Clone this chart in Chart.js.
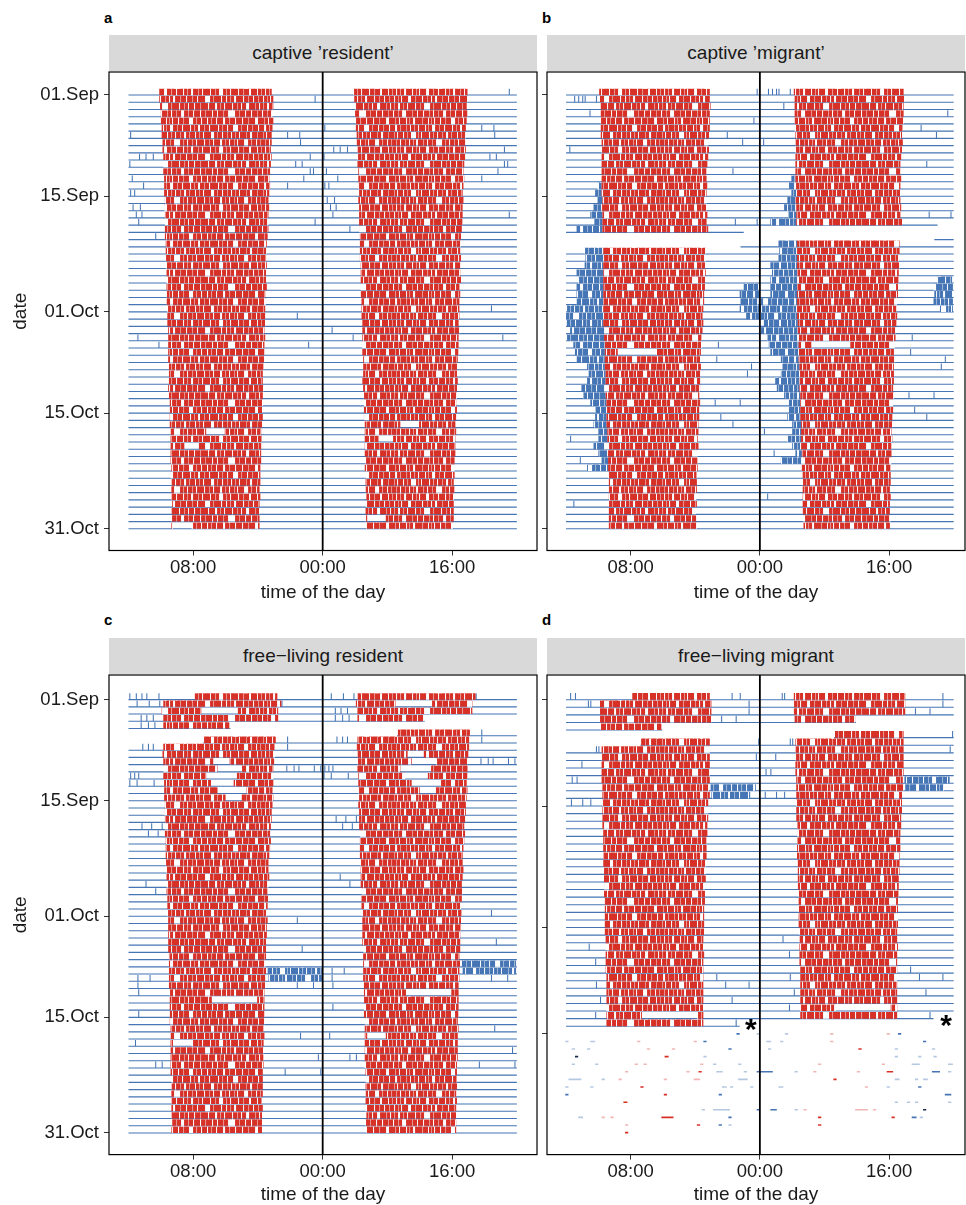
<!DOCTYPE html>
<html lang="en">
<head>
<meta charset="UTF-8">
<title>Actograms</title>
<style>
  body { margin: 0; background: #fff; overflow: hidden; font-family: 'Liberation Sans', Arial, sans-serif; }
  #fig { position: relative; width: 966px; height: 1205px; }
  .tag { position: absolute; font-weight: bold; font-size: 15px; line-height: 18px; color: #000; }
  .strip { position: absolute; height: 36px; line-height: 36px; background: #d9d9d9; text-align: center;
           font-size: 19px; color: #1a1a1a; white-space: nowrap; }
  canvas { position: absolute; }
</style>
</head>
<body>
<div id="fig">
  <div class="tag" style="left:104px;top:9px">a</div>
  <div class="tag" style="left:542px;top:9px">b</div>
  <div class="tag" style="left:104px;top:611px">c</div>
  <div class="tag" style="left:542px;top:611px">d</div>
  <div class="strip" id="s0" style="left:109px;top:35px;width:428px"></div>
  <div class="strip" id="s1" style="left:547px;top:35px;width:418px"></div>
  <div class="strip" id="s2" style="left:109px;top:638px;width:428px"></div>
  <div class="strip" id="s3" style="left:547px;top:638px;width:418px"></div>
  <canvas id="p0" width="540" height="544" style="left:0;top:66px"></canvas>
  <canvas id="p1" width="436" height="544" style="left:530px;top:66px"></canvas>
  <canvas id="p2" width="540" height="543" style="left:0;top:669px"></canvas>
  <canvas id="p3" width="436" height="543" style="left:530px;top:669px"></canvas>
</div>

<script src="https://cdn.jsdelivr.net/npm/chart.js@4.4.0/dist/chart.umd.min.js"></script>
<script>
// ---- data (hours of the day, day index 0 = 01.Sep, 61 = 01.Nov) ----
const panelTitles = ['captive \u2019resident\u2019', 'captive \u2019migrant\u2019',
                     'free\u2212living resident', 'free\u2212living migrant'];
const dateTickDays = [0, 14, 30, 44, 60];
const dateTickLabels = ['01.Sep', '15.Sep', '01.Oct', '15.Oct', '31.Oct'];
const timeTickHours = [8, 24, 40];
const timeTickLabels = ['08:00', '00:00', '16:00'];
const midnightHour = 24;

// activity onset / offset per day
const onsetA = [3.8,3.8,3.9,4.0,4.0,4.1,4.1,4.2,4.2,4.3, 4.3,4.3,4.4,4.4,4.4,4.5,4.4,4.5,4.5,4.5,
  4.5,4.6,4.6,4.6,4.6,4.7,4.7,4.7,4.7,4.7, 4.8,4.8,4.8,4.9,4.9,4.9,4.9,4.9,5.0,5.0,
  5.0,4.9,5.0,5.1,5.1,5.1,5.1,5.2,5.2,5.2, 5.2,5.2,5.3,5.2,5.3,5.3,5.3,5.4,5.3,5.3, 5.3,5.4];
const offsetA = [17.7,17.9,17.9,17.8,17.9,17.8,17.7,17.7,17.6,17.7, 17.6,17.5,17.4,17.5,17.4,17.3,17.4,17.3,17.3,17.3,
  17.2,17.1,17.1,17.0,17.1,17.0,17.0,17.1,16.9,17.0, 16.9,16.9,16.9,16.8,16.9,16.8,16.8,16.8,16.7,16.6,
  16.6,16.7,16.6,16.6,16.5,16.6,16.5,16.4,16.5,16.4, 16.4,16.4,16.3,16.3,16.3,16.2,16.3,16.2,16.2,16.2, 16.2,16.1];

const onsetB = [4.1,4.2,4.3,4.3,4.3,4.3,4.3,4.4,4.4,4.4, 4.4,4.4,4.4,4.4,4.4,4.5,4.4,4.5,4.5,4.5,
  null,null,4.6,4.6,4.6,4.6,4.6,4.6,4.6,4.6, 4.6,4.6,4.6,4.7,4.7,4.8,4.8,4.8,4.8,4.9,
  4.9,4.9,4.9,5.0,5.0,5.0,5.0,5.1,5.1,5.1, 5.1,5.2,5.2,5.2,5.3,5.3,5.3,5.3,5.3,5.3, 5.3,5.4];
const offsetB = [17.8,17.8,17.9,17.8,17.8,17.8,17.7,17.6,17.7,17.6, 17.5,17.4,17.4,17.5,17.4,17.4,17.4,17.5,17.4,17.6,
  null,null,17.3,17.3,17.2,17.3,17.2,17.2,17.1,17.1, 17.0,16.9,17.0,16.9,16.8,16.8,16.7,16.6,16.7,16.6,
  16.6,16.6,16.5,16.6,16.5,16.5,16.4,16.4,16.3,16.4, 16.3,16.3,16.3,16.2,16.2,16.2,16.1,16.2,16.1,16.1, 16.2,16.1];
// start of the night-time (blue) activity that runs up to the onset
const blueOnB = [null,null,null,null,null,null,null,null,null,null, null,null,null,3.9,3.6,3.9,3.4,3.0,3.5,1.3,
  null,null,2.3,2.4,2.3,1.3,1.5,1.3,1.3,1.3, 0.1,0.0,0.1,0.5,0.1,0.9,1.1,1.3,2.6,2.8,
  2.6,1.9,2.1,3.0,3.6,3.6,3.4,4.0,4.0,3.4, 4.0,4.4,2.6,null,null,null,null,null,null,null, null,null];

const onsetC = [8.2,4.3,4.1,4.3,4.3,null,9.3,4.3,4.2,4.3, 4.3,4.3,4.4,4.4,4.4,4.5,4.4,4.5,4.5,4.5,
  4.6,4.6,4.6,4.6,4.7,4.7,4.7,4.7,4.8,4.8, 4.8,4.9,4.9,4.9,4.9,4.9,5.0,5.0,5.0,5.0,
  5.0,5.1,5.1,5.1,5.1,5.1,5.2,5.2,5.2,5.2, 5.2,5.2,5.2,5.3,5.3,5.3,5.3,5.3,5.3,5.4, 5.3,5.4];
const offsetC = [18.4,18.9,18.5,18.5,12.5,null,18.2,18.1,18.1,18.0, 17.9,17.9,17.9,17.8,17.9,17.8,17.7,17.7,17.6,17.5,
  17.6,17.5,17.4,17.3,17.3,17.4,17.3,17.2,17.3,17.2, 17.1,17.2,17.1,17.1,17.0,17.0,17.0,16.9,17.0,16.9,
  16.9,16.8,16.8,16.8,16.8,16.8,16.7,16.8,16.7,16.7, 16.7,16.7,16.6,16.6,16.6,16.6,16.5,16.6,16.5,16.5, 16.5,16.5];

const onsetD = [8.2,4.2,4.2,4.2,4.3,null,9.3,4.4,4.4,4.4, 4.4,4.4,4.5,4.5,4.5,4.5,4.5,4.5,4.6,4.6,
  4.6,4.6,4.6,4.7,4.7,4.7,4.7,4.8,4.8,4.8, 4.8,4.8,4.9,4.9,4.9,4.9,4.9,5.0,5.0,5.0,
  5.0,5.0,5.0,5.0];
const offsetD = [17.8,18.0,18.0,18.0,11.8,null,17.8,17.8,17.8,17.8, 17.8,17.8,17.7,17.8,17.6,17.6,17.6,17.5,17.5,17.4,
  17.4,17.4,17.3,17.3,17.3,17.2,17.2,17.2,17.1,17.1, 17.1,17.1,17.0,17.0,17.1,17.0,17.0,17.0,17.0,17.0,
  17.0,17.0,17.0,17.0];

// days whose recording does not cover 00:00-24:00 [day, from, to] (null = no data)
const recB = [[19, 0, 22.0], [20, null, null], [21, 21.6, 24]];
const recC = [[4, 0, 12.6], [5, null, null], [6, 9.2, 24]];
const recD = [[4, 0, 11.9], [5, null, null], [6, 9.2, 24], [43, 0, 21.5]];

// pauses inside the active phase [day, from, to]
const gapsA = [[47, 9.6, 11.9], [49, 6.9, 8.7], [60, 5.5, 7.8]];
const gapsB = [[36, 6.4, 11.2]];
const gapsC = [[2, 9.0, 13.5], [9, 10.5, 12.5], [10, 11.0, 14.0], [11, 9.6, 13.4], [12, 10.2, 13.0],
  [13, 11.0, 14.6], [14, 12.0, 14.0], [42, 10.3, 15.9], [48, 5.5, 7.8]];
const gapsD = [[42, 9.4, 16.2]];

// evening night-time activity bouts [day, from, to]
const eveB = [[27, 22.0, 23.8], [28, 21.5, 23.9], [29, 21.6, 23.8], [30, 21.5, 23.9], [31, 22.3, 23.9]];
const eveC = [[38, 17.2, 23.9], [39, 17.3, 23.9]];
const eveD = [[12, 17.9, 23.5], [13, 18.0, 22.8]];

// single night-time counts [day, hour]
const ticksA = [[1,23.0],[6,19.6],[6,21.1],[6,0.2],[7,21.2],[9,1.3],[9,2.1],[9,3.0],[9,22.4],[10,0.1],[10,20.6],
  [10,21.4],[11,22.4],[11,22.8],[12,0.4],[12,21.6],[13,1.8],[13,19.6],[14,0.2],[14,0.7],[16,0.5],[16,1.4],
  [17,0.9],[17,1.6],[18,1.2],[18,23.0],[20,3.3],[31,20.8],[34,1.1],[35,3.7],[35,22.2]];
const ticksB = [[0,23.6],[1,1.0],[1,1.5],[1,2.0],[1,2.3],[1,3.7],[3,2.9],[4,23.2],[6,19.9],[7,21.8],[8,0.4],
  [11,20.6],[18,20.9],[18,23.6],[30,22.0],[35,18.8],[37,18.6],[38,22.9],[39,22.4],[43,18.4],[43,21.5],
  [45,19.1],[46,20.6],[48,0.5],[51,1.7],[57,0.9]];
const ticksC = [[0,0.1],[0,0.9],[0,1.6],[0,2.2],[0,3.7],[1,1.0],[1,2.5],[1,3.8],[1,18.9],[3,1.5],[3,2.2],[3,3.0],
  [4,1.5],[4,2.4],[4,3.2],[6,19.6],[7,1.7],[7,2.4],[7,3.0],[7,19.6],[10,19.5],[10,20.4],[10,21.0],[10,22.9],
  [10,23.7],[11,0.2],[11,0.7],[11,1.2],[12,0.1],[12,1.0],[12,3.1],[18,1.6],[18,2.8],[18,4.1],[19,2.4],[19,3.6],
  [26,2.1],[27,3.3],[31,20.8],[35,21.4],[39,1.1],[39,2.6],[40,1.1],[40,20.8],[40,22.8],[41,1.2],[44,1.2],
  [47,21.2],[48,0.8],[50,23.4],[51,3.3],[51,4.1],[52,19.3],[52,23.7]];
const ticksD = [[0,0.5],[0,1.1],[0,20.5],[0,21.5],[1,2.7],[1,3.0],[1,22.6],[2,22.6],[3,19.2],[3,21.0],[6,23.8],
  [7,3.7],[7,4.0],[8,23.5],[9,1.9],[11,0.7],[11,1.3],[12,19.8],[12,20.8],[14,0.6],[14,2.0],[14,3.0],[33,2.8],
  [35,3.6],[37,18.6],[38,3.7],[38,19.7],[38,22.6],[40,4.2],[40,20.5],[42,3.6],[43,21.0]];

// loose fragments after the logger stopped, panel d [row, from, to (plot hours 0-48), colour]
const dashesD = [
  [44,21.1,21.5,'b'],[44,23.6,24.0,'lb'],[44,27.1,27.5,'lb'],[44,32.7,33.1,'lr'],[44,39.7,40.1,'lr'],[44,41.1,41.5,'b'],
  [45,-0.1,0.3,'lb'],[45,3.0,3.6,'lb'],[45,8.8,9.2,'lr'],[45,15.8,16.2,'lr'],[45,17.0,17.4,'b'],[45,24.8,25.4,'lb'],
  [45,26.5,26.9,'lb'],[45,32.7,33.1,'lr'],[45,44.2,44.6,'b'],
  [46,0.7,1.1,'lb'],[46,2.6,3.0,'lb'],[46,10.0,10.4,'lr'],[46,13.1,13.5,'lr'],[46,20.1,20.5,'b'],[46,25.0,25.4,'lb'],
  [46,36.2,36.6,'r'],[46,40.7,41.1,'lb'],[46,45.3,45.7,'lb'],
  [47,1.1,1.5,'k'],[47,12.2,12.7,'r'],[47,17.0,17.4,'lb'],[47,40.7,41.1,'lb'],[47,43.6,44.0,'lb'],[47,45.5,45.9,'lb'],
  [48,0.7,1.1,'lb'],[48,3.6,4.0,'lb'],[48,8.5,8.9,'lr'],[48,9.6,10.0,'lr'],[48,16.6,17.0,'lr'],[48,18.2,18.6,'lb'],
  [48,21.3,21.7,'lb'],[48,31.2,31.6,'lr'],[48,39.1,39.5,'lr'],[48,42.8,43.8,'lb'],[48,47.3,47.9,'lb'],
  [49,7.3,7.7,'lr'],[49,14.9,15.3,'lr'],[49,16.4,16.8,'r'],[49,18.6,19.4,'lb'],[49,22.0,22.4,'lb'],[49,23.6,25.6,'b'],
  [49,28.3,28.7,'lb'],[49,30.6,31.0,'lr'],[49,36.0,36.4,'lr'],[49,39.7,40.5,'r'],[49,45.3,46.3,'b'],[49,47.3,47.7,'lb'],
  [50,0.3,1.9,'lb'],[50,4.4,4.8,'lb'],[50,6.5,6.9,'lr'],[50,12.1,12.5,'lr'],[50,15.8,16.6,'lr'],[50,21.3,22.5,'lb'],
  [50,33.1,33.5,'r'],[50,40.7,41.3,'lb'],[50,43.2,43.6,'lb'],[50,44.2,44.8,'lb'],
  [51,-0.1,0.3,'lb'],[51,3.0,3.4,'lb'],[51,9.2,9.6,'r'],[51,19.3,19.9,'lb'],[51,20.3,20.7,'lb'],[51,22.8,23.2,'lb'],
  [51,26.3,26.9,'lb'],[51,37.0,37.4,'lr'],[51,39.7,40.1,'lb'],[51,43.6,44.0,'b'],
  [52,-0.1,0.3,'b'],[52,12.1,12.5,'r'],[52,18.9,19.3,'b'],[52,46.9,47.7,'b'],
  [53,7.1,7.6,'r'],[53,40.7,41.1,'lb'],[53,42.2,42.6,'lb'],[53,43.2,43.6,'lb'],[53,47.3,47.7,'lb'],
  [54,16.8,17.2,'lb'],[54,18.2,20.3,'lb'],[54,23.6,24.0,'b'],[54,25.3,26.1,'b'],[54,28.3,28.7,'lb'],[54,29.4,29.8,'lr'],
  [54,35.8,37.4,'lr'],[54,38.0,38.4,'lr'],[54,44.2,44.6,'k'],
  [55,1.5,2.1,'lb'],[55,4.4,4.8,'lr'],[55,5.5,5.9,'lr'],[55,11.8,13.3,'r'],[55,20.1,20.5,'b'],[55,31.2,31.6,'r'],
  [55,40.3,40.7,'r'],[55,42.8,43.4,'b'],[55,43.8,44.2,'lb'],
  [56,7.3,7.7,'lr'],[56,16.2,16.6,'r'],[56,18.9,19.3,'b'],[56,20.1,20.5,'lb'],[56,31.2,31.6,'r'],
  [57,7.3,7.7,'r']];
// asterisks marking the end of the recording, panel d [plot hour, row]
const markersD = [[22.87, 42.5], [47.05, 41.96]];

// ---- styling ----
const RED = '#d73027';
const BLUE = '#4575b4';
const dashColors = { b: BLUE, lb: 'rgba(69,117,180,0.4)', r: RED, lr: 'rgba(215,48,39,0.35)', k: '#1e2b4f' };
const textFont = "'Liberation Sans', Arial, sans-serif";
Chart.defaults.font.family = textFont;
Chart.defaults.color = '#1a1a1a';

// texture for the activity blocks: one band per row, white slivers = minutes without counts
// [x, width] per band, tile 131 px wide, 8 bands high
const slitBands = [
  [[3,1],[11,2],[19,1],[26,1],[33,3],[45,1],[52,1],[60,2],[71,1],[79,1],[88,4],[99,1],[107,1],[118,2],[126,1]],
  [[1,1],[8,1],[15,3],[29,1],[38,1],[42,2],[55,1],[66,1],[74,5],[90,1],[95,1],[103,2],[112,1],[122,1]],
  [[5,2],[14,1],[22,1],[31,6],[48,1],[57,1],[63,1],[77,1],[84,2],[93,1],[101,1],[110,1],[115,3],[128,1]],
  [[0,1],[9,4],[24,1],[30,1],[40,1],[50,3],[62,1],[69,1],[81,1],[86,1],[97,7],[114,1],[120,1]],
  [[6,1],[13,1],[20,2],[35,1],[41,1],[47,1],[58,4],[70,1],[76,1],[85,1],[92,2],[104,1],[111,1],[124,3]],
  [[2,2],[17,1],[25,1],[32,1],[39,3],[51,1],[59,1],[67,2],[78,1],[87,1],[96,1],[102,5],[116,1],[127,1]],
  [[4,1],[10,1],[18,5],[28,1],[36,1],[44,1],[53,2],[64,1],[72,1],[80,3],[91,1],[100,1],[108,1],[119,2]],
  [[7,1],[16,1],[23,2],[34,1],[43,6],[56,1],[65,1],[73,1],[82,1],[89,2],[98,1],[106,1],[113,4],[125,1]]
];
const softBands = [
  [[7,1],[23,1],[40,1],[56,1],[67,1],[84,1],[95,1],[112,1],[130,1]],
  [[5,1],[22,1],[34,1],[49,1],[61,1],[82,1],[99,1],[117,1],[127,1]],
  [[1,1],[10,1],[27,1],[40,1],[53,1],[69,1],[89,1],[106,1],[124,1]],
  [[5,1],[19,1],[36,1],[45,1],[57,1],[74,1],[92,1],[108,1],[126,1]],
  [[2,1],[16,1],[29,1],[38,1],[52,1],[65,1],[80,1],[98,1],[117,1]],
  [[7,1],[13,1],[21,1],[35,1],[46,1],[63,1],[73,1],[91,1],[110,1],[121,1]],
  [[1,1],[14,1],[25,1],[40,1],[49,1],[58,1],[68,1],[86,1],[96,1],[104,1],[115,1],[126,1]],
  [[3,1],[12,1],[20,1],[30,1],[39,1],[52,1],[61,1],[78,1],[94,1],[103,1],[120,1],[129,1]]
];
const TILE_W = 131, BAND_H = 8, TILE_H = BAND_H * slitBands.length;

function makeTexture(color) {
  const c = document.createElement('canvas');
  c.width = TILE_W; c.height = TILE_H;
  const g = c.getContext('2d');
  g.fillStyle = color;
  g.fillRect(0, 0, TILE_W, TILE_H);
  g.fillStyle = '#fff';
  slitBands.forEach((band, b) => band.forEach(([x, w]) => g.fillRect(x, b * BAND_H, w, BAND_H)));
  g.fillStyle = 'rgba(255,255,255,0.5)';
  softBands.forEach((band, b) => band.forEach(([x, w]) => g.fillRect(x, b * BAND_H, w, BAND_H)));
  return g.createPattern(c, 'repeat');
}

const panels = [
  { title: panelTitles[0], onset: onsetA, offset: offsetA, blueOn: null, rec: [], lastDay: 61,
    gaps: gapsA, eve: [], ticks: ticksA, dashes: [], markers: [], labels: true,
    xMin: -2.41, xMax: 50.49, yMin: -3.18, yMax: 63.0, rowPx: 7.23, yW: 109, padR: 3, xH: 59.5 },
  { title: panelTitles[1], onset: onsetB, offset: offsetB, blueOn: blueOnB, rec: recB, lastDay: 61,
    gaps: gapsB, eve: eveB, ticks: ticksB, dashes: [], markers: [], labels: false,
    xMin: -2.36, xMax: 49.4, yMin: -3.18, yMax: 63.0, rowPx: 7.23, yW: 17, padR: 1, xH: 59.5 },
  { title: panelTitles[2], onset: onsetC, offset: offsetC, blueOn: null, rec: recC, lastDay: 61,
    gaps: gapsC, eve: eveC, ticks: ticksC, dashes: [], markers: [], labels: true,
    xMin: -2.41, xMax: 50.49, yMin: -3.41, yMax: 63.0, rowPx: 7.22, yW: 109, padR: 3, xH: 57.4 },
  { title: panelTitles[3], onset: onsetD, offset: offsetD, blueOn: null, rec: recD, lastDay: 43,
    gaps: gapsD, eve: eveD, ticks: ticksD, dashes: dashesD, markers: markersD, labels: false,
    xMin: -2.36, xMax: 49.4, yMin: -3.25, yMax: 59.9, rowPx: 7.59, yW: 17, padR: 1, xH: 57.4 }
];

const LIFT = 0.44; // bars stand on the day's base line

function cut(on, off, gaps) {
  let segs = [[on, off]];
  gaps.forEach(([g0, g1]) => {
    segs = segs.flatMap(([s, e]) => {
      if (g1 <= s || g0 >= e) return [[s, e]];
      const out = [];
      if (g0 > s) out.push([s, g0]);
      if (g1 < e) out.push([g1, e]);
      return out;
    });
  });
  return segs;
}

function buildDatasets(p) {
  const red = [], blue = [], ticks = [], dashes = [], base = [];
  const recOf = d => {
    if (d > p.lastDay) return null;
    const o = p.rec.find(r => r[0] === d);
    if (o) return o[1] === null ? null : [o[1], o[2]];
    return [0, 24];
  };
  // double plot: row r shows day r on the left and day r+1 on the right
  for (let r = 0; r <= 60; r++) {
    [[r, 0], [r + 1, 24]].forEach(([d, shift]) => {
      const rec = recOf(d);
      if (rec) base.push({ y: r, x: [rec[0] + shift, rec[1] + shift] });
      const on = p.onset[d], off = p.offset[d];
      if (on == null || off == null) return;
      const g = p.gaps.filter(x => x[0] === d).map(x => [x[1], x[2]]);
      cut(on, off, g).forEach(([s, e]) => red.push({ y: r - LIFT, x: [s + shift, e + shift] }));
      if (p.blueOn && p.blueOn[d] != null) blue.push({ y: r - LIFT, x: [p.blueOn[d] + shift, on + shift] });
    });
  }
  p.eve.forEach(([d, s, e]) => {
    blue.push({ y: d - LIFT, x: [s, e] });
    if (d >= 1) blue.push({ y: d - 1 - LIFT, x: [s + 24, e + 24] });
  });
  p.ticks.forEach(([d, t]) => {
    ticks.push({ y: d - LIFT, x: [t, t + 0.13] });
    if (d >= 1) ticks.push({ y: d - 1 - LIFT, x: [t + 24, t + 24.13] });
  });
  p.dashes.forEach(([r, s, e]) => dashes.push({ y: r, x: [s, e] }));

  const h = p.rowPx * 0.88;
  const common = { grouped: false, borderWidth: 0, inflateAmount: 0 };
  return [
    { ...common, label: 'day activity', data: red, backgroundColor: makeTexture(RED), barThickness: h },
    { ...common, label: 'night activity', data: blue, backgroundColor: makeTexture(BLUE), barThickness: h },
    { ...common, label: 'night counts', data: ticks, backgroundColor: BLUE, barThickness: h },
    { ...common, label: 'fragments', data: dashes, backgroundColor: p.dashes.map(x => dashColors[x[3]]), barThickness: 1.6 },
    { ...common, label: 'recording', data: base, backgroundColor: BLUE, barThickness: 1.1 }
  ];
}

function framePlugin(markers) {
  return {
    id: 'frame',
    beforeDatasetsDraw(chart) {
      // lock the texture bands to the day rows
      const y = chart.scales.y;
      const top = y.getPixelForValue(-2 * LIFT);
      const pitch = Math.abs(y.getPixelForValue(1) - y.getPixelForValue(0));
      const m = new DOMMatrix().translate(0, top).scale(1, pitch / BAND_H);
      chart.data.datasets.slice(0, 2).forEach(ds => ds.backgroundColor.setTransform(m));
    },
    afterDatasetsDraw(chart) {
      const { ctx, chartArea: a, scales: { x, y } } = chart;
      ctx.save();
      ctx.strokeStyle = '#000';
      ctx.lineWidth = 1.8;
      const mx = x.getPixelForValue(midnightHour);
      ctx.beginPath();
      ctx.moveTo(mx, a.top);
      ctx.lineTo(mx, a.bottom);
      ctx.stroke();
      ctx.lineWidth = 1.2;
      ctx.strokeRect(a.left, a.top, a.right - a.left, a.bottom - a.top);
      ctx.fillStyle = '#000';
      ctx.font = 'bold 30px ' + textFont;
      ctx.textAlign = 'center';
      ctx.textBaseline = 'alphabetic';
      markers.forEach(([hr, d]) => ctx.fillText('*', x.getPixelForValue(hr), y.getPixelForValue(d) + 17));
      ctx.restore();
    }
  };
}

panels.forEach((p, i) => {
  document.getElementById('s' + i).textContent = p.title;
  const grid = { drawOnChartArea: false, drawTicks: true, tickLength: 5, color: '#333', lineWidth: 1, offset: false };
  new Chart(document.getElementById('p' + i), {
    type: 'bar',
    data: { datasets: buildDatasets(p) },
    plugins: [framePlugin(p.markers)],
    options: {
      indexAxis: 'y',
      responsive: false,
      devicePixelRatio: 1,
      animation: false,
      events: [],
      layout: { padding: { top: 6, right: p.padR, left: 0, bottom: 0 } },
      plugins: { legend: { display: false }, tooltip: { enabled: false } },
      scales: {
        x: {
          type: 'linear', min: p.xMin, max: p.xMax, offset: false,
          afterBuildTicks: s => { s.ticks = timeTickHours.map(v => ({ value: v })); },
          afterFit: s => { s.height = p.xH; s.paddingLeft = 0; s.paddingRight = 0; },
          ticks: { autoSkip: false, maxRotation: 0, padding: 1, color: '#1a1a1a', font: { size: 18.5 },
                   callback: v => timeTickLabels[timeTickHours.indexOf(v)] },
          grid: grid,
          border: { display: false },
          title: { display: true, text: 'time of the day', color: '#1a1a1a', font: { size: 19 },
                   padding: { top: 0, bottom: 6 } }
        },
        y: {
          type: 'linear', reverse: true, min: p.yMin, max: p.yMax, offset: false,
          afterBuildTicks: s => {
            s.ticks = dateTickDays.filter(v => v >= p.yMin && v <= p.yMax).map(v => ({ value: v }));
          },
          afterFit: s => { s.width = p.yW; s.paddingTop = 0; s.paddingBottom = 0; },
          ticks: { autoSkip: false, padding: 5, color: '#1a1a1a', font: { size: 18.5 },
                   callback: v => p.labels ? dateTickLabels[dateTickDays.indexOf(v)] : '' },
          grid: grid,
          border: { display: false },
          title: { display: p.labels, text: 'date', color: '#1a1a1a', font: { size: 19 },
                   padding: { top: 9, bottom: 0 } }
        }
      }
    }
  });
});
</script>
</body>
</html>
